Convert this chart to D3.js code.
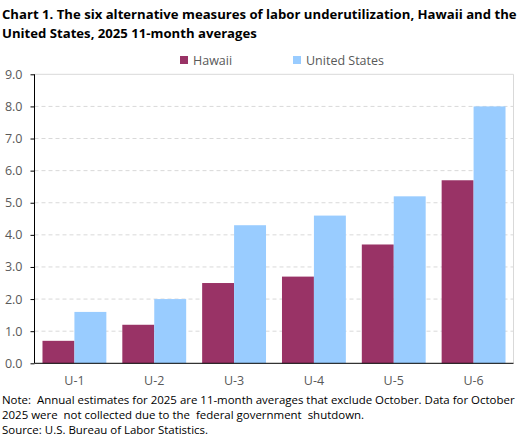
<!DOCTYPE html>
<html><head><meta charset="utf-8">
<script src="https://cdn.jsdelivr.net/npm/d3@7"></script>
<style>body{margin:0;background:#fff}svg{display:block}text{font-family:"Open Sans","Liberation Sans",sans-serif}</style>
</head><body><svg id="c" width="527" height="448"></svg>
<script>
const categories = ["U-1","U-2","U-3","U-4","U-5","U-6"];
const seriesNames = ["Hawaii","United States"];
const hawaii = [0.7, 1.2, 2.5, 2.7, 3.7, 5.7];
const unitedStates = [1.6, 2.0, 4.3, 4.6, 5.2, 8.0];
const yTicks = [0,1,2,3,4,5,6,7,8,9];
const colors = ["#993366","#99CCFF"];
const titleLines = ["Chart 1. The six alternative measures of labor underutilization, Hawaii and the","United States, 2025 11-month averages"];
const noteLines = ["Note:  Annual estimates for 2025 are 11-month averages that exclude October. Data for October","2025 were  not collected due to the  federal government  shutdown.","Source: U.S. Bureau of Labor Statistics."];

const svg = d3.select("#c");
const m = {l:34.5, r:513.5, t:74.3, b:363.3};
const x = d3.scaleBand().domain(categories).range([m.l, m.r]).paddingInner(0.2).paddingOuter(0.1);
const xs = d3.scaleBand().domain(seriesNames).range([0, x.bandwidth()]);
const y = d3.scaleLinear().domain([0,9]).range([m.b, m.t]);

function fitSize(sel, target, base) {
  const w = sel.node().getComputedTextLength();
  sel.attr("font-size", base * target / w);
}

// title
const tt = svg.append("g").selectAll("text").data(titleLines).join("text")
  .attr("x", 2).attr("y", (d,i)=>19 + i*19)
  .attr("font-size", 14).attr("font-weight", "bold").attr("fill", "#000")
  .text(d=>d);
const t0 = d3.select(tt.nodes()[0]);
const tw = t0.node().getComputedTextLength();
const tSize = 14 * 515 / tw;
tt.attr("font-size", tSize);

// gridlines
svg.append("g").selectAll("line").data(yTicks.filter(t=>t>0 && t<9)).join("line")
  .attr("x1", m.l).attr("x2", m.r).attr("y1", d=>y(d)).attr("y2", d=>y(d))
  .attr("stroke", "#d9d9d9").attr("stroke-dasharray", "4,3");
svg.append("path").attr("d", `M${m.l},${m.t}H${m.r}V${m.b}`).attr("fill","none").attr("stroke","#d9d9d9");

// bars
const data = categories.map((c,i)=>({c, vals:[hawaii[i], unitedStates[i]]}));
svg.append("g").selectAll("g").data(data).join("g")
  .attr("transform", d=>`translate(${x(d.c)},0)`)
  .selectAll("rect").data(d=>d.vals.map((v,j)=>({v, s:seriesNames[j], j}))).join("rect")
  .attr("x", d=>xs(d.s)).attr("width", xs.bandwidth())
  .attr("y", d=>y(d.v)).attr("height", d=>y(0)-y(d.v))
  .attr("fill", d=>colors[d.j]);

// y axis
const ya = svg.append("g").attr("transform", `translate(${m.l},0)`)
  .call(d3.axisLeft(y).tickValues(yTicks).tickFormat(d3.format(".1f")).tickSize(4).tickPadding(8));
ya.select(".domain").attr("stroke","#000").attr("d", `M0,${m.t}V${m.b}`);
ya.selectAll(".tick line").attr("stroke","#000");
ya.selectAll(".tick text").attr("fill","#595959").attr("font-size",12.5).attr("font-family",'"Open Sans",sans-serif');

// x axis
const xa = svg.append("g").attr("transform", `translate(0,${m.b})`)
  .call(d3.axisBottom(x).tickSize(0).tickPadding(13));
xa.select(".domain").attr("stroke","#000").attr("d", `M${m.l},0H${m.r}`);
xa.selectAll(".tick text").attr("fill","#595959").attr("font-size",12.5).attr("font-family",'"Open Sans",sans-serif');

// legend
const lx = [180, 293];
const lg = svg.append("g").selectAll("g").data(seriesNames).join("g")
  .attr("transform", (d,i)=>`translate(${lx[i]},56)`);
lg.append("rect").attr("width",8).attr("height",8).attr("fill",(d,i)=>colors[i]);
lg.append("text").attr("x",13).attr("y",8.5).attr("font-size",12.5).attr("fill","#595959").text(d=>d);

// notes
const nt = svg.append("g").selectAll("text").data(noteLines).join("text")
  .attr("x", 2).attr("y", (d,i)=>404 + i*15)
  .attr("font-size", 12).attr("fill","#000")
  .attr("xml:space","preserve").style("white-space","pre")
  .text(d=>d);
const nw = nt.nodes()[0].getComputedTextLength();
nt.attr("font-size", Math.min(12, 12 * 513 / nw));
</script></body></html>
